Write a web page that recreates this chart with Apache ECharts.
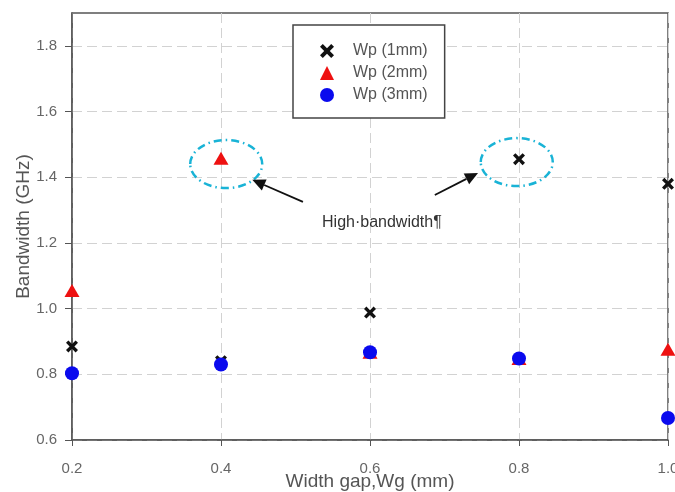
<!DOCTYPE html>
<html><head><meta charset="utf-8">
<script src="https://cdn.jsdelivr.net/npm/echarts@6/dist/echarts.min.js"></script>
<style>html,body{margin:0;padding:0;background:#fff}#c{width:675px;height:492px}</style>
</head><body><div id="c"></div>
<script>
var xValues = [0.2, 0.4, 0.6, 0.8, 1.0];
var wp1 = [0.885, 0.84, 0.988, 1.455, 1.38];
var wp2 = [1.055, 1.458, 0.867, 0.848, 0.876];
var wp3 = [0.803, 0.83, 0.867, 0.848, 0.667];
var xTicks = [0.2, 0.4, 0.6, 0.8, 1.0];
var yTicks = [0.6, 0.8, 1.0, 1.2, 1.4, 1.6, 1.8];
var seriesNames = ['Wp (1mm)', 'Wp (2mm)', 'Wp (3mm)'];
var ellipses = [[0.407, 1.44], [0.797, 1.446]];
var arrows = [[[0.51, 1.325], [0.442, 1.392]], [[0.687, 1.346], [0.745, 1.413]]];
var noteText = 'High·bandwidth¶';
var notePos = [0.616, 1.262];

function pairs(ys){ return xValues.map(function(x,i){ return [x, ys[i]]; }); }
var FONT = '"Liberation Sans", Arial, sans-serif';
var crossPath = 'path://M2,0 L5,3 L8,0 L10,2 L7,5 L10,8 L8,10 L5,7 L2,10 L0,8 L3,5 L0,2 Z';

var chart = echarts.init(document.getElementById('c'), null, {renderer:'canvas'});
chart.setOption({
  animation:false,
  backgroundColor:'#fff',
  grid:{left:72, right:7, top:13, bottom:52, show:true, borderColor:'#555', borderWidth:1.5, containLabel:false, outerBoundsMode:'none'},
  legend:{
    orient:'vertical', left:293, top:25,
    padding:[18, 17, 15, 27], itemGap:6, itemWidth:14, itemHeight:14,
    borderColor:'#444', borderWidth:1.5, backgroundColor:'#fff',
    textStyle:{color:'#555', fontSize:16, fontFamily:FONT, padding:[0,0,0,14]},
    data:seriesNames
  },
  xAxis:{
    type:'value', min:0.2, max:1.0, interval:0.2,
    axisLine:{lineStyle:{color:'#555', width:1.5}},
    axisTick:{show:true, inside:false, length:6, lineStyle:{color:'#555'}},
    axisLabel:{color:'#666', fontSize:15, fontFamily:FONT, margin:21, formatter:function(v){return v.toFixed(1);}, customValues:xTicks},
    splitLine:{show:true, lineStyle:{color:'#d2d2d2', type:[10,5], width:1}},
    name:'Width gap,Wg (mm)', nameLocation:'middle', nameGap:32, nameMoveOverlap:false,
    nameTextStyle:{color:'#555', fontSize:19, fontFamily:FONT, verticalAlign:'top', lineHeight:19}
  },
  yAxis:{
    type:'value', min:0.6, max:1.9, interval:0.2,
    axisLine:{lineStyle:{color:'#555', width:1.5}},
    axisTick:{show:true, inside:false, length:7, lineStyle:{color:'#555'}, customValues:yTicks},
    axisLabel:{color:'#666', fontSize:15, fontFamily:FONT, margin:15, formatter:function(v){return v.toFixed(1);}, customValues:yTicks},
    splitLine:{show:true, lineStyle:{color:'#d2d2d2', type:[10,5], width:1}},
    name:'Bandwidth (GHz)', nameLocation:'middle', nameGap:39, nameRotate:90, nameMoveOverlap:false,
    nameTextStyle:{color:'#555', fontSize:19, fontFamily:FONT}
  },
  series:[
    {name:seriesNames[0], type:'scatter', data:pairs(wp1), symbol:crossPath, symbolSize:12, itemStyle:{color:'#111', opacity:1}, z:4},
    {name:seriesNames[1], type:'scatter', data:pairs(wp2), symbol:'triangle', symbolSize:[15,13], itemStyle:{color:'#ee1111', opacity:1}, z:3},
    {name:seriesNames[2], type:'scatter', data:pairs(wp3), symbol:'circle', symbolSize:14, itemStyle:{color:'#0a0aee', opacity:1}, z:5}
  ]
});

var g = [];
ellipses.forEach(function(e){
  var p = chart.convertToPixel({gridIndex:0}, e);
  g.push({type:'ellipse', shape:{cx:p[0], cy:p[1], rx:36, ry:24},
    style:{fill:null, stroke:'#19b3d6', lineWidth:2.5, lineDash:[8,4,1.5,4]}, z:10});
});
arrows.forEach(function(a){
  var t = chart.convertToPixel({gridIndex:0}, a[0]);
  var h = chart.convertToPixel({gridIndex:0}, a[1]);
  var dx = h[0]-t[0], dy = h[1]-t[1], L = Math.sqrt(dx*dx+dy*dy);
  var ux = dx/L, uy = dy/L, hl = 13, hw = 6;
  var bx = h[0]-ux*hl, by = h[1]-uy*hl;
  g.push({type:'line', shape:{x1:t[0], y1:t[1], x2:bx, y2:by}, style:{stroke:'#111', lineWidth:1.8}, z:10});
  g.push({type:'polygon', shape:{points:[[h[0],h[1]],[bx-uy*hw, by+ux*hw],[bx+uy*hw, by-ux*hw]]}, style:{fill:'#111'}, z:10});
});
var np = chart.convertToPixel({gridIndex:0}, notePos);
g.push({type:'text', x:np[0], y:np[1], style:{text:noteText, fill:'#333', font:'16px '+FONT, align:'center', verticalAlign:'middle'}, z:10});
chart.setOption({graphic:g});
</script>
</body></html>
